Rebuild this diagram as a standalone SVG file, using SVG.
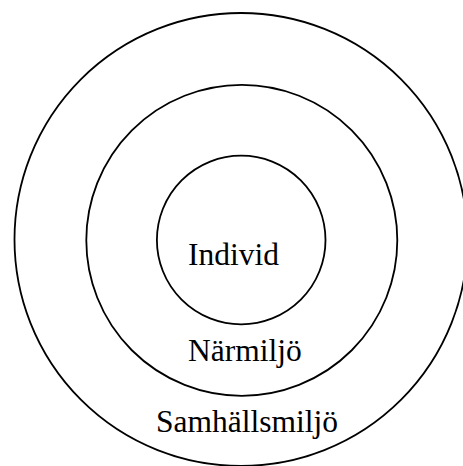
<svg xmlns="http://www.w3.org/2000/svg" width="463" height="466" viewBox="0 0 463 466">
<style>
.ring{fill:none;stroke:#000;stroke-width:1.8}
.lbl{font-family:"Liberation Serif","Times New Roman",serif;font-size:31.5px;fill:#000}
</style>
<rect width="463" height="466" fill="#fff"/>
<g id="samhallsmiljo">
<circle class="ring" cx="241" cy="239.5" r="226.5"/>
<text class="lbl" x="156" y="432">Samhällsmiljö</text>
</g>
<g id="narmiljo">
<circle class="ring" cx="241.8" cy="240.3" r="155.5"/>
<text class="lbl" x="188" y="361">Närmiljö</text>
</g>
<g id="individ">
<circle class="ring" cx="241.2" cy="240" r="84.3"/>
<text class="lbl" x="188" y="264.5">Individ</text>
</g>
<g id="connectors"/>
</svg>
